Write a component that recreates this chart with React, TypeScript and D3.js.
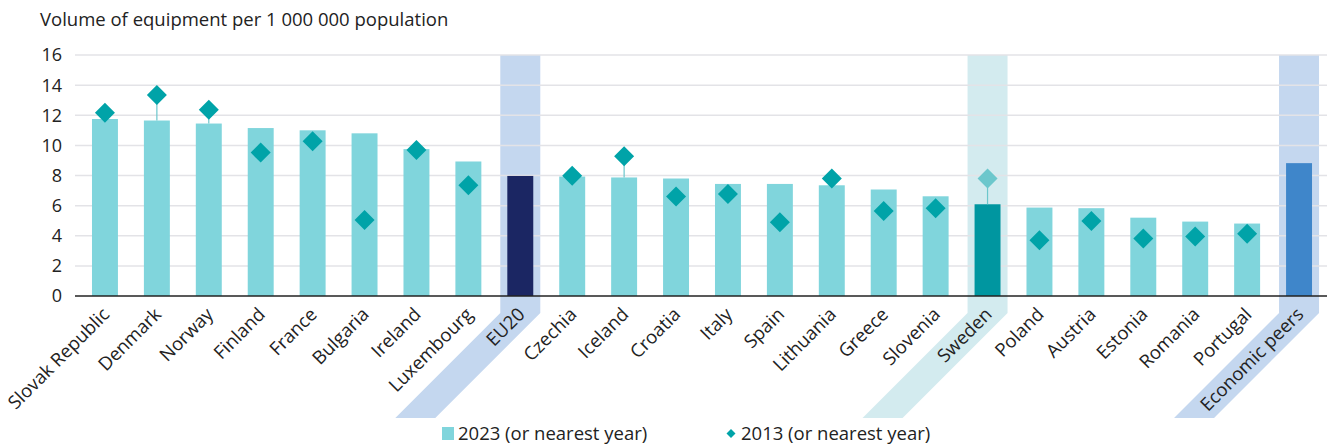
import React from 'react';
import * as d3 from 'd3';

const categories = [
  'Slovak Republic', 'Denmark', 'Norway', 'Finland', 'France', 'Bulgaria', 'Ireland', 'Luxembourg',
  'EU20', 'Czechia', 'Iceland', 'Croatia', 'Italy', 'Spain', 'Lithuania', 'Greece', 'Slovenia',
  'Sweden', 'Poland', 'Austria', 'Estonia', 'Romania', 'Portugal', 'Economic peers',
];
const values2023 = [
  11.75, 11.65, 11.45, 11.15, 11.0, 10.8, 9.75, 8.93,
  7.97, 7.93, 7.87, 7.8, 7.44, 7.44, 7.35, 7.07, 6.62,
  6.09, 5.87, 5.83, 5.2, 4.94, 4.81, 8.82,
];
// null = no 2013 value shown
const values2013: (number | null)[] = [
  12.17, 13.35, 12.37, 9.52, 10.27, 5.05, 9.69, 7.35,
  null, 7.99, 9.28, 6.6, 6.78, 4.9, 7.8, 5.65, 5.83,
  7.8, 3.7, 4.98, 3.81, 3.95, 4.14, null,
];
const yTicks = [0, 2, 4, 6, 8, 10, 12, 14, 16];

const W = 1327;
const H = 448;
const FONT = "'Open Sans', 'Noto Sans', sans-serif";

// highlighted categories: bar colour, band colour, diamond colour
const special: Record<string, { bar: string; band: string; dot?: string }> = {
  EU20: { bar: '#1b2663', band: '#c4d7ef' },
  Sweden: { bar: '#0096a0', band: '#d3ebef', dot: '#6cc7cc' },
  'Economic peers': { bar: '#3f86ca', band: '#c4d7ef' },
};

export default function App() {
  const x = d3.scaleBand<string>().domain(categories).range([79, 1325]).paddingInner(0.5).paddingOuter(0.25);
  const y = d3.scaleLinear().domain([0, 16]).range([296, 55]);
  const bw = x.bandwidth();
  const bandW = 40;
  const bandBottom = 418;
  const bendY = 313;

  return (
    <svg width={W} height={H} style={{ position: 'absolute', left: 0, top: 0, fontFamily: FONT }}>
      <rect width={W} height={H} fill="#fff" />
      <text x={40} y={26} fontSize={18.5} fill="#222">Volume of equipment per 1 000 000 population</text>

      {/* highlight bands running down into the labels */}
      {categories.filter(c => special[c]).map(c => {
        const cx = (x(c) ?? 0) + bw / 2;
        const L = cx - bandW / 2;
        const R = cx + bandW / 2;
        const d = bandBottom - bendY;
        const pts = [[L, y(16)], [R, y(16)], [R, bendY], [R - d, bandBottom], [L - d, bandBottom], [L, bendY]];
        return <polygon key={c} points={pts.map(p => p.join(',')).join(' ')} fill={special[c].band} />;
      })}

      {/* gridlines */}
      {yTicks.filter(t => t > 0).map(t => (
        <line key={t} x1={75} x2={W} y1={y(t)} y2={y(t)} stroke="#e3e3e7" strokeWidth={1.5} />
      ))}
      {yTicks.map(t => (
        <text key={t} x={62} y={y(t)} dy="0.36em" textAnchor="end" fontSize={18} fill="#222">{t}</text>
      ))}

      {/* bars */}
      {categories.map((c, i) => (
        <rect key={c} x={x(c)} y={y(values2023[i])} width={bw} height={y(0) - y(values2023[i])}
          fill={special[c] ? special[c].bar : '#80d5dc'} />
      ))}

      {/* connectors from bar top to a higher 2013 value */}
      {categories.map((c, i) => {
        const v = values2013[i];
        if (v == null || v <= values2023[i]) return null;
        const cx = (x(c) ?? 0) + bw / 2;
        return <line key={c} x1={cx} x2={cx} y1={y(values2023[i])} y2={y(v)} stroke="#6cc7cc" strokeWidth={1.2} />;
      })}

      {/* 2013 diamonds */}
      {categories.map((c, i) => {
        const v = values2013[i];
        if (v == null) return null;
        const cx = (x(c) ?? 0) + bw / 2;
        const cy = y(v);
        const r = 10;
        return <polygon key={c} points={`${cx},${cy - r} ${cx + r},${cy} ${cx},${cy + r} ${cx - r},${cy}`}
          fill={special[c]?.dot ?? '#00a3a8'} />;
      })}

      <line x1={75} x2={W} y1={y(0)} y2={y(0)} stroke="#222" strokeWidth={1.5} />

      {/* category labels */}
      {categories.map(c => {
        const cx = (x(c) ?? 0) + bw / 2;
        return (
          <text key={c} transform={`translate(${cx + 1},${311}) rotate(-45)`} textAnchor="end" dy="0.35em"
            fontSize={18.5} fill="#222">{c}</text>
        );
      })}

      {/* legend */}
      <rect x={442} y={427} width={12} height={13} fill="#80d5dc" />
      <text x={458} y={440} fontSize={18.5} fill="#222">2023 (or nearest year)</text>
      <polygon points="731,429 735.5,433.5 731,438 726.5,433.5" fill="#00a3a8" />
      <text x={741} y={440} fontSize={18.5} fill="#222">2013 (or nearest year)</text>
    </svg>
  );
}
